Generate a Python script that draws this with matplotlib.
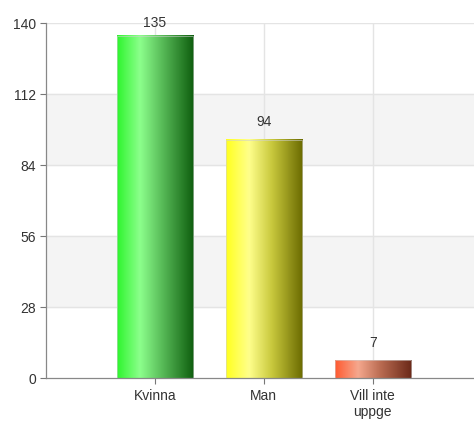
import numpy as np
import matplotlib
matplotlib.use('Agg')
import matplotlib.pyplot as plt
from matplotlib.colors import LinearSegmentedColormap

plt.rcParams['font.family'] = ['Liberation Sans', 'DejaVu Sans']

categories = ['Kvinna', 'Man', 'Vill inte\nuppge']
values = [135, 94, 7]
y_ticks = [0, 28, 56, 84, 112, 140]

# gradient stops per bar: left edge, highlight, right edge
gradients = [
    ['#2ef52e', '#8cff8c', '#56b856', '#0e5e0e'],
    ['#ffff1e', '#ffff8c', '#c8c83c', '#6a6a00'],
    ['#ff5a30', '#f5a88e', '#b86a50', '#6a2818'],
]

fig = plt.figure(figsize=(4.74, 4.21), dpi=100)
ax = fig.add_axes([0.097, 0.102, 0.903, 0.843])

x = np.arange(len(categories))
width = 0.70

# alternating bands
for lo in (28, 84):
    ax.axhspan(lo, lo + 28, color='#f4f4f4', zorder=0)
for t in y_ticks[1:]:
    ax.axhline(t, color='#e4e4e4', lw=1.0, zorder=1)
for xi in x:
    ax.axvline(xi, color='#e4e4e4', lw=1.0, zorder=1)

grad = np.linspace(0, 1, 256).reshape(1, -1)
for xi, v, stops in zip(x, values, gradients):
    cmap = LinearSegmentedColormap.from_list(
        'g', list(zip([0.0, 0.3, 0.6, 1.0], stops)))
    ax.imshow(grad, cmap=cmap, aspect='auto', zorder=2,
              extent=(xi - width / 2, xi + width / 2, 0, v))
    ax.bar(xi, v, width=width, facecolor='none', edgecolor='#d0d0d0',
           lw=0.4, zorder=3)
    ax.text(xi, min(v + 7, 140), str(v), ha='center', va='center',
            fontsize=10, color='#333333', zorder=4)

ax.set_xlim(-1.0, 2.93)
ax.set_ylim(0, 140)
ax.set_xticks(x)
ax.set_xticklabels(categories, fontsize=10, color='#333333', linespacing=1.15)
ax.set_yticks(y_ticks)
ax.set_yticklabels([str(t) for t in y_ticks], fontsize=10, color='#333333')
ax.tick_params(axis='both', length=4, width=0.8, color='#777777')
ax.tick_params(axis='x', pad=4)
ax.tick_params(axis='y', pad=3)

for s in ('top', 'right'):
    ax.spines[s].set_visible(False)
for s in ('left', 'bottom'):
    ax.spines[s].set_color('#888888')
    ax.spines[s].set_linewidth(0.9)

fig.savefig('out.png', dpi=100, facecolor='white')
